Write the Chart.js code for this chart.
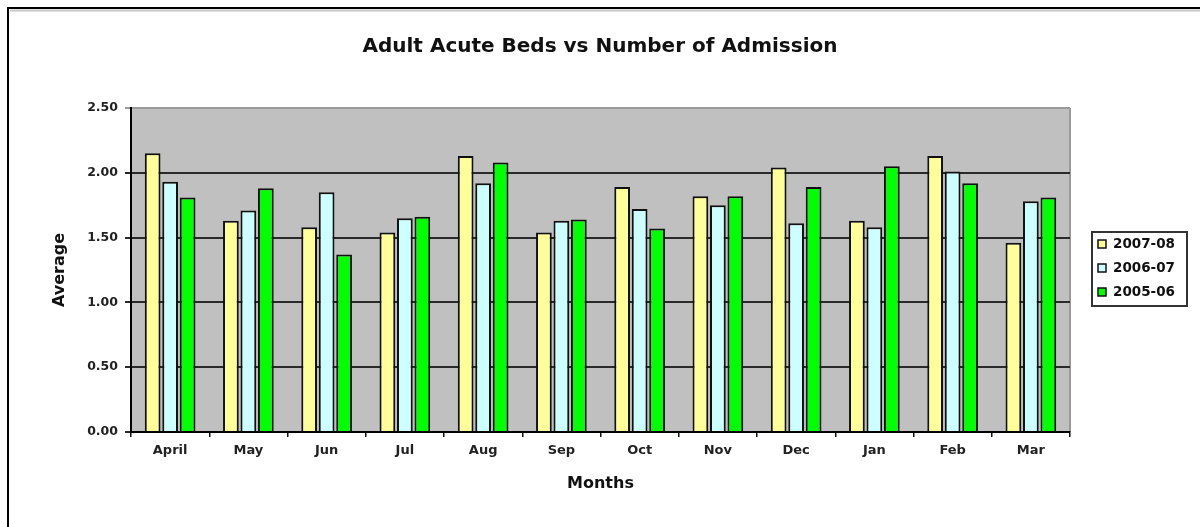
<!DOCTYPE html>
<html>
<head>
<meta charset="utf-8">
<title>Adult Acute Beds vs Number of Admission</title>
<script src="https://cdn.jsdelivr.net/npm/chart.js@4/dist/chart.umd.min.js"></script>
<style>
  html, body { margin: 0; padding: 0; background: #ffffff; }
  #wrap { position: relative; width: 1200px; height: 527px; }
</style>
</head>
<body>
<div id="wrap"><canvas id="chart"></canvas></div>
<script>
// Months of the financial year (April to March)
const months = ['April', 'May', 'Jun', 'Jul', 'Aug', 'Sep', 'Oct', 'Nov', 'Dec', 'Jan', 'Feb', 'Mar'];

// Average beds per admission, one array per financial year
const fy2007_08 = [2.15, 1.63, 1.58, 1.54, 2.13, 1.54, 1.89, 1.82, 2.04, 1.63, 2.13, 1.46];
const fy2006_07 = [1.93, 1.71, 1.85, 1.65, 1.92, 1.63, 1.72, 1.75, 1.61, 1.58, 2.01, 1.78];
const fy2005_06 = [1.81, 1.88, 1.37, 1.66, 2.08, 1.64, 1.57, 1.82, 1.89, 2.05, 1.92, 1.81];

const seriesNames = ['2007-08', '2006-07', '2005-06'];

// Value-axis tick positions
const yTicks = [0, 0.5, 1.0, 1.5, 2.0, 2.5];

const FONT = '"DejaVu Sans", Verdana, sans-serif';

// Outer frame, grey plot background and right-hand plot edge
const backdrop = {
  id: 'backdrop',
  beforeDraw(chart) {
    const { ctx, chartArea: a } = chart;
    ctx.save();
    ctx.fillStyle = '#ffffff';
    ctx.fillRect(0, 0, chart.width, chart.height);
    // frame
    ctx.strokeStyle = '#c8c8c8';
    ctx.lineWidth = 2;
    ctx.beginPath();
    ctx.moveTo(10, 10.5); ctx.lineTo(chart.width, 10.5);
    ctx.stroke();
    ctx.strokeStyle = '#000000';
    ctx.beginPath();
    ctx.moveTo(8, chart.height); ctx.lineTo(8, 8); ctx.lineTo(chart.width, 8);
    ctx.stroke();
    // plot area
    ctx.fillStyle = '#c0c0c0';
    ctx.fillRect(a.left, a.top, a.right - a.left, a.bottom - a.top);
    ctx.strokeStyle = '#9a9a9a';
    ctx.lineWidth = 2;
    ctx.beginPath();
    ctx.moveTo(a.right, a.top); ctx.lineTo(a.right, a.bottom);
    ctx.stroke();
    ctx.restore();
  }
};

// Boxed legend to the right of the plot
const boxedLegend = {
  id: 'boxedLegend',
  afterDraw(chart) {
    const { ctx, chartArea: a } = chart;
    const x0 = a.right + 22, w = 95;
    const rowH = 24;
    const n = chart.data.datasets.length;
    const h = n * rowH + 2;
    const y0 = (a.top + a.bottom) / 2 - h / 2 - 1;
    ctx.save();
    ctx.strokeStyle = '#333333';
    ctx.lineWidth = 2;
    ctx.strokeRect(x0, y0, w, h);
    ctx.font = 'bold 13.5px ' + FONT;
    ctx.textBaseline = 'middle';
    ctx.textAlign = 'left';
    chart.data.datasets.forEach((ds, i) => {
      const cy = y0 + 12 + i * rowH;
      ctx.fillStyle = ds.backgroundColor;
      ctx.fillRect(x0 + 6, cy - 4, 8, 8);
      ctx.lineWidth = 1.5;
      ctx.strokeStyle = '#111111';
      ctx.strokeRect(x0 + 6, cy - 4, 8, 8);
      ctx.fillStyle = '#111111';
      ctx.fillText(ds.label, x0 + 21, cy + 0.5);
    });
    ctx.restore();
  }
};

const barStyle = { borderColor: '#111111', borderWidth: 2, borderSkipped: 'start' };

new Chart(document.getElementById('chart'), {
  type: 'bar',
  data: {
    labels: months,
    datasets: [
      Object.assign({ label: seriesNames[0], data: fy2007_08, backgroundColor: '#ffff99' }, barStyle),
      Object.assign({ label: seriesNames[1], data: fy2006_07, backgroundColor: '#ccffff' }, barStyle),
      Object.assign({ label: seriesNames[2], data: fy2005_06, backgroundColor: '#00ff00' }, barStyle)
    ]
  },
  options: {
    responsive: true,
    maintainAspectRatio: false,
    animation: false,
    devicePixelRatio: 1,
    layout: { padding: 0 },
    datasets: { bar: { categoryPercentage: 0.67, barPercentage: 0.9 } },
    plugins: {
      legend: { display: false },
      tooltip: { enabled: false },
      title: {
        display: true,
        text: 'Adult Acute Beds vs Number of Admission',
        color: '#111111',
        font: { family: FONT, size: 20, weight: 'bold', lineHeight: 1.2 },
        padding: { top: 35, bottom: 49 }
      }
    },
    scales: {
      x: {
        afterFit(scale) { scale.height = 95; },
        offset: true,
        grid: {
          offset: true,
          drawOnChartArea: false,
          drawTicks: true,
          tickLength: 5,
          color: '#111111',
          lineWidth: 1.5
        },
        border: { display: true, color: '#000000', width: 2 },
        ticks: {
          color: '#222222',
          padding: 6,
          maxRotation: 0,
          font: { family: FONT, size: 13, weight: 'bold' }
        },
        title: {
          display: true,
          text: 'Months',
          color: '#111111',
          font: { family: FONT, size: 16, weight: 'bold', lineHeight: 1.2 },
          padding: { top: 0, bottom: 34 }
        }
      },
      y: {
        afterFit(scale) { scale.width = 131; },
        min: 0,
        max: 2.5,
        afterBuildTicks(scale) { scale.ticks = yTicks.map(v => ({ value: v })); },
        grid: {
          drawTicks: true,
          tickLength: 6,
          lineWidth: 2,
          color: ctx => (ctx.tick && ctx.tick.value === 2.5) ? '#9a9a9a' : '#2a2a2a'
        },
        border: { display: true, color: '#000000', width: 2 },
        ticks: {
          color: '#222222',
          padding: 7,
          font: { family: FONT, size: 12.5, weight: 'bold' },
          callback: v => Number(v).toFixed(2)
        },
        title: {
          display: true,
          text: 'Average',
          color: '#111111',
          font: { family: FONT, size: 16, weight: 'bold', lineHeight: 1.2 },
          padding: { top: 50, bottom: 0 }
        }
      },
      // empty right-hand gutter that reserves room for the legend box
      gutter: {
        type: 'linear',
        position: 'right',
        afterFit(scale) { scale.width = 130; },
        grid: { display: false },
        border: { display: false },
        ticks: { display: false }
      }
    }
  },
  plugins: [backdrop, boxedLegend]
});
</script>
</body>
</html>
